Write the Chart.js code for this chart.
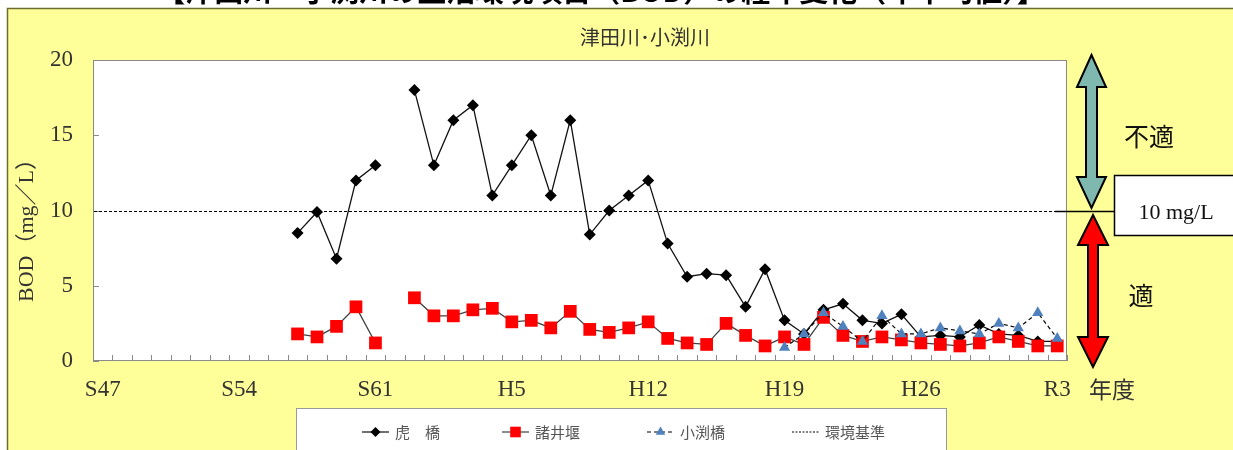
<!DOCTYPE html>
<html>
<head>
<meta charset="utf-8">
<script src="https://cdn.jsdelivr.net/npm/chart.js@4.4.1/dist/chart.umd.min.js"></script>
<style>
html, body { margin: 0; padding: 0; background: #fff; }
#wrap { width: 1233px; height: 450px; position: relative; }
</style>
</head>
<body>
<div id="wrap"><canvas id="c" width="1233" height="450"></canvas></div>
<script>
// 年度 (S47 .. R3)
const years = [
    "S47", "S48", "S49", "S50", "S51", "S52", "S53", "S54", "S55", "S56",
    "S57", "S58", "S59", "S60", "S61", "S62", "S63", "H1", "H2", "H3",
    "H4", "H5", "H6", "H7", "H8", "H9", "H10", "H11", "H12", "H13",
    "H14", "H15", "H16", "H17", "H18", "H19", "H20", "H21", "H22", "H23",
    "H24", "H25", "H26", "H27", "H28", "H29", "H30", "R1", "R2", "R3"
];

// BOD 年平均値 (mg/L)
const torahashi = [
    null, null, null, null, null, null, null, null, null, null,
    8.5, 9.9, 6.8, 12.0, 13.0, null, 18.0, 13.0, 16.0, 17.0,
    11.0, 13.0, 15.0, 11.0, 16.0, 8.4, 10.0, 11.0, 12.0, 7.8,
    5.6, 5.8, 5.7, 3.6, 6.1, 2.7, 1.8, 3.4, 3.8, 2.7,
    2.5, 3.1, 1.6, 1.7, 1.6, 2.4, 1.8, 1.7, 1.3, 1.3
];
const moroi = [
    null, null, null, null, null, null, null, null, null, null,
    1.8, 1.6, 2.3, 3.6, 1.2, null, 4.2, 3.0, 3.0, 3.4,
    3.5, 2.6, 2.7, 2.2, 3.3, 2.1, 1.9, 2.2, 2.6, 1.5,
    1.2, 1.1, 2.5, 1.7, 1.0, 1.6, 1.1, 2.9, 1.7, 1.3,
    1.6, 1.4, 1.2, 1.1, 1.0, 1.2, 1.6, 1.3, 1.0, 1.0
];
const kobuchi = [
    null, null, null, null, null, null, null, null, null, null,
    null, null, null, null, null, null, null, null, null, null,
    null, null, null, null, null, null, null, null, null, null,
    null, null, null, null, null, 0.9, 1.8, 3.2, 2.3, 1.3,
    3.0, 1.8, 1.8, 2.2, 2.0, 1.8, 2.5, 2.2, 3.2, 1.5
];
const kijun = 10;
const yMax = 20;
const yStep = 5;
const labelEvery = 7;

const serif = '"Liberation Serif", "Times New Roman", serif';
const cjk = '"Noto Sans CJK JP", sans-serif';

function arrow(ctx, cx, top, headTop, headBot, bot, shaftW, headW, fill) {
    ctx.beginPath();
    ctx.moveTo(cx, top);
    ctx.lineTo(cx + headW, headTop);
    ctx.lineTo(cx + shaftW, headTop);
    ctx.lineTo(cx + shaftW, headBot);
    ctx.lineTo(cx + headW, headBot);
    ctx.lineTo(cx, bot);
    ctx.lineTo(cx - headW, headBot);
    ctx.lineTo(cx - shaftW, headBot);
    ctx.lineTo(cx - shaftW, headTop);
    ctx.lineTo(cx - headW, headTop);
    ctx.closePath();
    ctx.fillStyle = fill;
    ctx.fill();
    ctx.lineWidth = 2;
    ctx.strokeStyle = "#000";
    ctx.stroke();
}

const decor = {
    id: "decor",
    beforeDraw(chart) {
        var ctx = chart.ctx;
        ctx.save();
        ctx.fillStyle = "#fff";
        ctx.fillRect(0, 0, chart.width, chart.height);
        // 見出し (上端で切れている)
        ctx.fillStyle = "#000";
        ctx.font = "bold 29px " + cjk;
        ctx.textAlign = "center";
        ctx.textBaseline = "middle";
        ctx.fillText("【津田川・小渕川の生活環境項目（BOD）の経年変化（年平均値）】", 601, -9);
        // 黄色の枠
        ctx.fillStyle = "#FFFF99";
        ctx.fillRect(7.5, 8.5, chart.width, chart.height);
        ctx.strokeStyle = "#6E6B2E";
        ctx.lineWidth = 1.5;
        ctx.beginPath();
        ctx.moveTo(7.5, chart.height + 2);
        ctx.lineTo(7.5, 8.5);
        ctx.lineTo(chart.width + 2, 8.5);
        ctx.stroke();
        var a = chart.chartArea;
        ctx.fillStyle = "#fff";
        ctx.fillRect(a.left, a.top, a.right - a.left, a.bottom - a.top);
        ctx.restore();
    },
    beforeDatasetsDraw(chart) {
        var ctx = chart.ctx;
        var a = chart.chartArea;
        var xs = chart.scales.x;
        var ys = chart.scales.y;
        ctx.save();
        ctx.strokeStyle = "#8A8A8A";
        ctx.lineWidth = 1;
        ctx.strokeRect(a.left + 0.5, a.top + 0.5, a.right - a.left - 1, a.bottom - a.top - 1);
        // 目盛 (内向き)
        ctx.beginPath();
        for (var v = 0; v <= yMax; v += yStep) {
            var py = Math.round(ys.getPixelForValue(v)) + 0.5;
            ctx.moveTo(a.left, py);
            ctx.lineTo(a.left + 6, py);
        }
        var step = xs.getPixelForValue(1) - xs.getPixelForValue(0);
        for (var i = 0; i <= years.length; i++) {
            var px = Math.round(xs.getPixelForValue(i) - step / 2) + 0.5;
            ctx.moveTo(px, a.bottom);
            ctx.lineTo(px, a.bottom - 6);
        }
        ctx.stroke();
        // 環境基準
        var ky = Math.round(ys.getPixelForValue(kijun)) + 0.5;
        ctx.strokeStyle = "#000";
        ctx.setLineDash([3, 2]);
        ctx.beginPath();
        ctx.moveTo(a.left + 1, ky);
        ctx.lineTo(a.right - 12, ky);
        ctx.stroke();
        ctx.restore();
    },
    afterDraw(chart) {
        var ctx = chart.ctx;
        var ys = chart.scales.y;
        ctx.save();
        // 副題
        ctx.fillStyle = "#333";
        ctx.font = "20px " + cjk;
        ctx.textAlign = "center";
        ctx.textBaseline = "middle";
        ctx.fillText("津田川･小渕川", 645, 37);
        // 年度
        ctx.font = "23px " + cjk;
        ctx.fillText("年度", 1112, 389);
        // 縦軸タイトル
        ctx.save();
        ctx.translate(27, 225);
        ctx.rotate(-Math.PI / 2);
        ctx.font = "22px " + serif + ", " + cjk;
        ctx.fillText("BOD（mg／L）", 0, 0);
        ctx.restore();

        // 矢印と基準値の枠
        var ky = Math.round(ys.getPixelForValue(kijun)) + 0.5;
        arrow(ctx, 1091.5, 55, 87, 177, 208, 5.5, 14.5, "#7FB8AE");
        arrow(ctx, 1093, 215, 245, 337, 367, 5, 15, "#FF0000");
        ctx.strokeStyle = "#000";
        ctx.lineWidth = 1.5;
        ctx.beginPath();
        ctx.moveTo(1055, ky);
        ctx.lineTo(1114, ky);
        ctx.stroke();
        ctx.fillStyle = "#fff";
        ctx.fillRect(1114.5, 175.5, 130, 60);
        ctx.strokeRect(1114.5, 175.5, 130, 60);
        ctx.fillStyle = "#111";
        ctx.font = "22px " + serif;
        ctx.fillText("10 mg/L", 1176, 213);
        ctx.font = "25px " + cjk;
        ctx.fillText("不適", 1149, 136);
        ctx.fillText("適", 1141, 295);

        // 凡例
        ctx.fillStyle = "#fff";
        ctx.fillRect(296.5, 408.5, 650, 60);
        ctx.strokeStyle = "#9A9A9A";
        ctx.lineWidth = 1;
        ctx.strokeRect(296.5, 408.5, 650, 60);
        var ly = 432;
        var items = [
            { ds: 0, x: 362, text: "虎　橋", r: 5 },
            { ds: 1, x: 502, text: "諸井堰", r: 7.5 },
            { ds: 2, x: 647, text: "小渕橋", r: 5.5 },
            { ds: -1, x: 792, text: "環境基準" }
        ];
        ctx.textAlign = "left";
        items.forEach(it => {
            ctx.lineWidth = 1.2;
            ctx.strokeStyle = "#000";
            if (it.ds < 0) {
                ctx.setLineDash([2, 1.5]);
            } else {
                var d = chart.data.datasets[it.ds];
                ctx.strokeStyle = d.borderColor;
                ctx.setLineDash(d.borderDash || []);
            }
            ctx.beginPath();
            ctx.moveTo(it.x, ly);
            ctx.lineTo(it.x + 27, ly);
            ctx.stroke();
            ctx.setLineDash([]);
            if (it.ds >= 0) {
                var d2 = chart.data.datasets[it.ds];
                ctx.fillStyle = d2.pointBackgroundColor;
                Chart.helpers.drawPoint(ctx, { pointStyle: d2.pointStyle, radius: it.r, rotation: 0, borderWidth: 0 }, it.x + 13.5, ly);
            }
            ctx.fillStyle = "#555";
            ctx.font = "15px " + cjk;
            ctx.fillText(it.text, it.x + 33, ly);
        });
        ctx.restore();
    }
};

new Chart(document.getElementById("c"), {
    type: "line",
    data: {
        labels: years,
        datasets: [
            {
                label: "虎 橋",
                data: torahashi,
                borderColor: "#111",
                borderWidth: 1.3,
                pointStyle: "rectRot",
                pointRadius: 6,
                pointBackgroundColor: "#000",
                pointBorderWidth: 0,
                spanGaps: false,
                order: 3
            },
            {
                label: "諸井堰",
                data: moroi,
                borderColor: "#404040",
                borderWidth: 1.3,
                pointStyle: "rect",
                pointRadius: 9,
                pointBackgroundColor: "#FF0000",
                pointBorderWidth: 0,
                spanGaps: false,
                order: 2
            },
            {
                label: "小渕橋",
                data: kobuchi,
                borderColor: "#000",
                borderWidth: 1.2,
                borderDash: [4, 3],
                pointStyle: "triangle",
                pointRadius: 6.5,
                pointBackgroundColor: "#4F81BD",
                pointBorderWidth: 0,
                spanGaps: false,
                order: 1
            }
        ]
    },
    options: {
        responsive: false,
        animation: false,
        devicePixelRatio: 1,
        layout: { padding: { left: 0, top: 60, right: 166, bottom: 0 } },
        plugins: {
            legend: { display: false },
            title: { display: false },
            tooltip: { enabled: false }
        },
        elements: { line: { tension: 0 } },
        scales: {
            x: {
                type: "category",
                offset: true,
                grid: { display: false, drawTicks: false },
                border: { display: false },
                ticks: {
                    autoSkip: false,
                    maxRotation: 0,
                    padding: 15,
                    color: "#333",
                    font: { family: serif, size: 23 },
                    callback: (v, i) => i % labelEvery === 0 ? years[i] : ""
                },
                afterFit: s => { s.height = 89; }
            },
            y: {
                min: 0,
                max: yMax,
                grid: { display: false, drawTicks: false },
                border: { display: false },
                ticks: {
                    stepSize: yStep,
                    padding: 20,
                    color: "#333",
                    font: { family: serif, size: 23 }
                },
                afterFit: s => { s.width = 93; }
            }
        }
    },
    plugins: [decor]
});
</script>
</body>
</html>
